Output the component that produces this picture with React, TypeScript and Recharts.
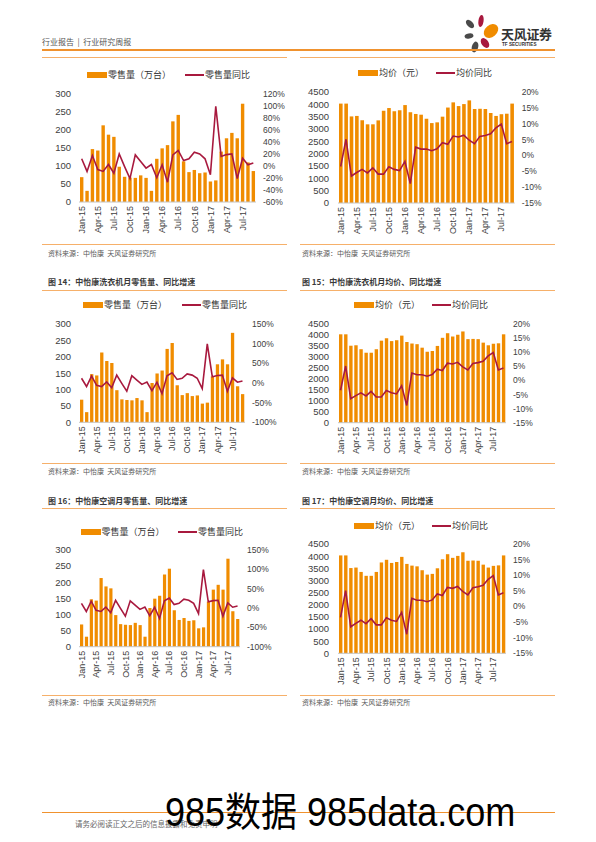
import React from "react";
import { ComposedChart, Bar, Line, XAxis, YAxis } from "recharts";

const months = [
  "Jan-15", "Feb-15", "Mar-15", "Apr-15", "May-15", "Jun-15", "Jul-15", "Aug-15", "Sep-15", "Oct-15", "Nov-15", "Dec-15",
  "Jan-16", "Feb-16", "Mar-16", "Apr-16", "May-16", "Jun-16", "Jul-16", "Aug-16", "Sep-16", "Oct-16", "Nov-16", "Dec-16",
  "Jan-17", "Feb-17", "Mar-17", "Apr-17", "May-17", "Jun-17", "Jul-17", "Aug-17", "Sep-17",
];

// 零售量（万台）
const volume = [69, 31, 147, 143, 213, 187, 181, 98, 70, 68, 67, 74, 67, 31, 120, 149, 158, 224, 242, 113, 83, 89, 80, 82, 57, 60, 140, 177, 192, 177, 273, 110, 86];
// 零售量同比 (%)
const volumeYoy = [12, -9, 17.5, -6, -9, 2.5, -12, 20, -1, -21, 18.5, 7.5, -3.5, 2.5, -19.5, 2, -27, 18.5, 26, 9, 12, 23, 20, 12, -14.5, 99.5, 16, 19, 20, -21, 13, 2, 5];
// 均价（元）
const price = [4030, 4030, 3510, 3530, 3350, 3190, 3190, 3350, 3740, 3850, 3720, 3760, 3970, 3680, 3610, 3580, 3420, 3240, 3270, 3500, 3870, 4080, 3930, 4010, 4160, 3810, 3820, 3810, 3650, 3530, 3600, 3620, 4030];
// 均价同比 (%)
const priceYoy = [-3.5, 5.1, -6.5, -5.4, -4.4, -5.5, -3.9, -5.9, -5.9, -3.6, -4.4, -4.8, -1.9, -8.9, 2.6, 2.0, 2.0, 1.5, 2.1, 4.0, 3.5, 6.1, 5.8, 6.4, 4.8, 3.7, 6.0, 6.3, 6.8, 8.7, 9.9, 3.7, 4.4];

const volumeTicks = [0, 50, 100, 150, 200, 250, 300];
const volumeYoyTicksTop = [-60, -40, -20, 0, 20, 40, 60, 80, 100, 120];
const volumeYoyTicks = [-100, -50, 0, 50, 100, 150];
const priceTicks = [0, 500, 1000, 1500, 2000, 2500, 3000, 3500, 4000, 4500];
const priceYoyTicks = [-15, -10, -5, 0, 5, 10, 15, 20];

const volumeRows = months.map((m, i) => ({ month: m, bar: volume[i], yoy: volumeYoy[i] }));
const priceRows = months.map((m, i) => ({ month: m, bar: price[i], yoy: priceYoy[i] }));

const ORANGE = "#F08C00";
const CRIMSON = "#A8193E";
const RULE = "#F6B06A";
const LATIN = "'Liberation Sans', Arial, 'Noto Sans CJK SC', sans-serif";
const CJK = "'Noto Sans CJK SC', 'Liberation Sans', sans-serif";

function RotTick(props: any) {
  const { x, y, payload } = props;
  return (
    <text
      x={x}
      y={y}
      dy={3.2}
      transform={`rotate(-90 ${x} ${y})`}
      textAnchor="end"
      fontSize={9}
      fill="#404040"
      fontFamily={LATIN}
    >
      {payload.value}
    </text>
  );
}

type ComboProps = {
  rows: any[];
  plotLeft: number;
  plotRight: number;
  plotTop: number;
  plotBottom: number;
  leftTicks: number[];
  rightTicks: number[];
  barSize: number;
  leftMargin?: number;
};

function Combo({ rows, plotLeft, plotRight, plotTop, plotBottom, leftTicks, rightTicks, barSize, leftMargin = 8 }: ComboProps) {
  const leftW = 40;
  const rightW = 42;
  const topPad = 6;
  const xH = 40;
  const boxLeft = plotLeft - leftW;
  const width = plotRight - boxLeft + rightW;
  const height = topPad + (plotBottom - plotTop) + xH;
  return (
    <div style={{ position: "absolute", left: boxLeft, top: plotTop - topPad }}>
      <ComposedChart
        width={width}
        height={height}
        data={rows}
        margin={{ top: topPad, right: 0, bottom: 0, left: 0 }}
      >
        <XAxis
          dataKey="month"
          interval={2}
          tickLine={false}
          tickSize={3}
          tickMargin={1}
          stroke="#c4c4c4"
          height={xH}
          tick={(p: any) => <RotTick {...p} />}
        />
        <YAxis
          yAxisId="l"
          orientation="left"
          width={leftW}
          domain={[leftTicks[0], leftTicks[leftTicks.length - 1]]}
          ticks={leftTicks}
          interval={0}
          axisLine={false}
          tickLine={false}
          tickSize={0}
          tickMargin={leftMargin}
          tick={{ fontSize: 9.5, fill: "#404040", fontFamily: LATIN }}
        />
        <YAxis
          yAxisId="r"
          orientation="right"
          width={rightW}
          domain={[rightTicks[0], rightTicks[rightTicks.length - 1]]}
          ticks={rightTicks}
          interval={0}
          axisLine={false}
          tickLine={false}
          tickSize={0}
          tickMargin={7}
          tickFormatter={(v: number) => `${v}%`}
          tick={{ fontSize: 8.5, fill: "#404040", fontFamily: LATIN }}
        />
        <Bar yAxisId="l" dataKey="bar" fill={ORANGE} barSize={barSize} isAnimationActive={false} />
        <Line
          yAxisId="r"
          dataKey="yoy"
          type="linear"
          stroke={CRIMSON}
          strokeWidth={1.6}
          dot={false}
          isAnimationActive={false}
        />
      </ComposedChart>
    </div>
  );
}

function Legend2({ x, y, lineX, barLabel, lineLabel }: { x: number; y: number; lineX: number; barLabel: string; lineLabel: string }) {
  const txt: React.CSSProperties = {
    position: "absolute",
    top: y - 7,
    height: 14,
    lineHeight: "14px",
    fontSize: 9,
    color: "#333",
    fontFamily: CJK,
    whiteSpace: "nowrap",
  };
  return (
    <>
      <div style={{ position: "absolute", left: x, top: y - 3, width: 20, height: 6, background: ORANGE }} />
      <div style={{ ...txt, left: x + 21 }}>{barLabel}</div>
      <div style={{ position: "absolute", left: lineX, top: y - 1, width: 19, height: 2, background: CRIMSON }} />
      <div style={{ ...txt, left: lineX + 20 }}>{lineLabel}</div>
    </>
  );
}

function Rule({ x1, x2, y, color = RULE, h = 1 }: { x1: number; x2: number; y: number; color?: string; h?: number }) {
  return <div style={{ position: "absolute", left: x1, top: y, width: x2 - x1, height: h, background: color }} />;
}

function Label({ x, y, text, size, color, bold }: { x: number; y: number; text: string; size: number; color: string; bold?: boolean }) {
  return (
    <div
      style={{
        position: "absolute",
        left: x,
        top: y - 8,
        height: 16,
        lineHeight: "16px",
        fontSize: size,
        color,
        fontWeight: bold ? 700 : 400,
        fontFamily: CJK,
        whiteSpace: "pre",
      }}
    >
      {text}
    </div>
  );
}

function Logo() {
  return (
    <>
      <svg style={{ position: "absolute", left: 460, top: 12 }} width={44} height={44} viewBox="0 0 44 44">
        <ellipse cx={10} cy={12} rx={3} ry={5} fill="#4a4a4a" transform="rotate(-45 10 12)" />
        <ellipse cx={21} cy={9} rx={2.6} ry={6} fill="#A8193E" transform="rotate(8 21 9)" />
        <ellipse cx={31} cy={19} rx={6} ry={8} fill="#F08C00" transform="rotate(50 31 19)" />
        <ellipse cx={9} cy={24} rx={4.5} ry={2.6} fill="#4a4a4a" transform="rotate(-10 9 24)" />
        <ellipse cx={25} cy={31} rx={3.5} ry={5.5} fill="#A8193E" transform="rotate(-35 25 31)" />
        <ellipse cx={15} cy={35} rx={3.2} ry={5.5} fill="#4a4a4a" transform="rotate(15 15 35)" />
      </svg>
      <div style={{ position: "absolute", left: 501, top: 26, fontSize: 13, lineHeight: "16px", fontWeight: 700, color: "#333", fontFamily: CJK, letterSpacing: -0.3 }}>
        天风证券
      </div>
      <div style={{ position: "absolute", left: 502, top: 42, fontSize: 4.6, lineHeight: "6px", fontWeight: 700, color: "#333", fontFamily: LATIN }}>
        TF SECURITIES
      </div>
    </>
  );
}

export default function App() {
  return (
    <div style={{ position: "absolute", left: 0, top: 0, width: 596, height: 842, background: "#fff", overflow: "hidden" }}>
      {/* header */}
      <Label x={42} y={42} text="行业报告  |  行业研究周报" size={8} color="#555" />
      <Logo />
      <Rule x1={42} x2={555} y={49} color="#F0922E" h={2} />
      <Rule x1={42} x2={287} y={57} />
      <Rule x1={300} x2={555} y={57} />

      {/* row 1 */}
      <Legend2 x={87} y={75} lineX={185} barLabel="零售量（万台）" lineLabel="零售量同比" />
      <Combo rows={volumeRows} plotLeft={79} plotRight={256} plotTop={93.7} plotBottom={201.7} leftTicks={volumeTicks} rightTicks={volumeYoyTicksTop} barSize={3.4} />
      <Rule x1={42} x2={287} y={244} />
      <Label x={48} y={252.5} text="资料来源：中怡康  天风证券研究所" size={7} color="#595959" />

      <Legend2 x={358} y={73} lineX={436} barLabel="均价（元）" lineLabel="均价同比" />
      <Combo rows={priceRows} plotLeft={338.3} plotRight={515} plotTop={91.7} plotBottom={202.7} leftTicks={priceTicks} rightTicks={priceYoyTicks} barSize={3.6} leftMargin={9} />
      <Rule x1={300} x2={555} y={244} />
      <Label x={302} y={252.5} text="资料来源：中怡康  天风证券研究所" size={7} color="#595959" />

      {/* row 2 */}
      <Label x={48} y={282} text="图 14：中怡康洗衣机月零售量、同比增速" size={8} color="#3a3a3a" bold />
      <Rule x1={42} x2={287} y={290} />
      <Legend2 x={83} y={305} lineX={182} barLabel="零售量（万台）" lineLabel="零售量同比" />
      <Combo rows={volumeRows} plotLeft={79} plotRight={245} plotTop={324} plotBottom={422.3} leftTicks={volumeTicks} rightTicks={volumeYoyTicks} barSize={3.3} />
      <Rule x1={42} x2={287} y={462.5} />
      <Label x={48} y={470.5} text="资料来源：中怡康  天风证券研究所" size={7} color="#595959" />

      <Label x={302} y={282} text="图 15：中怡康洗衣机月均价、同比增速" size={8} color="#3a3a3a" bold />
      <Rule x1={300} x2={555} y={290} />
      <Legend2 x={354} y={304.5} lineX={432} barLabel="均价（元）" lineLabel="均价同比" />
      <Combo rows={priceRows} plotLeft={338} plotRight={506} plotTop={324} plotBottom={422.7} leftTicks={priceTicks} rightTicks={priceYoyTicks} barSize={3.4} leftMargin={9} />
      <Rule x1={300} x2={555} y={462.5} />
      <Label x={302} y={470.5} text="资料来源：中怡康  天风证券研究所" size={7} color="#595959" />

      {/* row 3 */}
      <Label x={48} y={500.5} text="图 16：中怡康空调月零售量、同比增速" size={8} color="#3a3a3a" bold />
      <Rule x1={42} x2={287} y={508} />
      <Legend2 x={80.5} y={531.5} lineX={178} barLabel="零售量（万台）" lineLabel="零售量同比" />
      <Combo rows={volumeRows} plotLeft={79} plotRight={240} plotTop={550} plotBottom={646.7} leftTicks={volumeTicks} rightTicks={volumeYoyTicks} barSize={3.2} />
      <Rule x1={42} x2={287} y={695} />
      <Label x={48} y={702} text="资料来源：中怡康  天风证券研究所" size={7} color="#595959" />

      <Label x={302} y={500.5} text="图 17：中怡康空调月均价、同比增速" size={8} color="#3a3a3a" bold />
      <Rule x1={300} x2={555} y={508} />
      <Legend2 x={354} y={526} lineX={432} barLabel="均价（元）" lineLabel="均价同比" />
      <Combo rows={priceRows} plotLeft={338} plotRight={506} plotTop={544} plotBottom={653.3} leftTicks={priceTicks} rightTicks={priceYoyTicks} barSize={3.4} leftMargin={9} />
      <Rule x1={300} x2={555} y={695} />
      <Label x={302} y={702} text="资料来源：中怡康  天风证券研究所" size={7} color="#595959" />

      {/* footer */}
      <Rule x1={42} x2={555} y={812} color="#F0922E" />
      <Label x={75} y={824} text="请务必阅读正文之后的信息披露和免责申明" size={7.5} color="#666" />
      <div
        style={{
          position: "absolute",
          left: 165,
          top: 787,
          fontSize: 40,
          lineHeight: "50px",
          color: "#000",
          fontFamily: LATIN,
          whiteSpace: "nowrap",
          transform: "scaleX(0.9)",
          transformOrigin: "left top",
        }}
      >
        985数据 985data.com
      </div>
    </div>
  );
}
